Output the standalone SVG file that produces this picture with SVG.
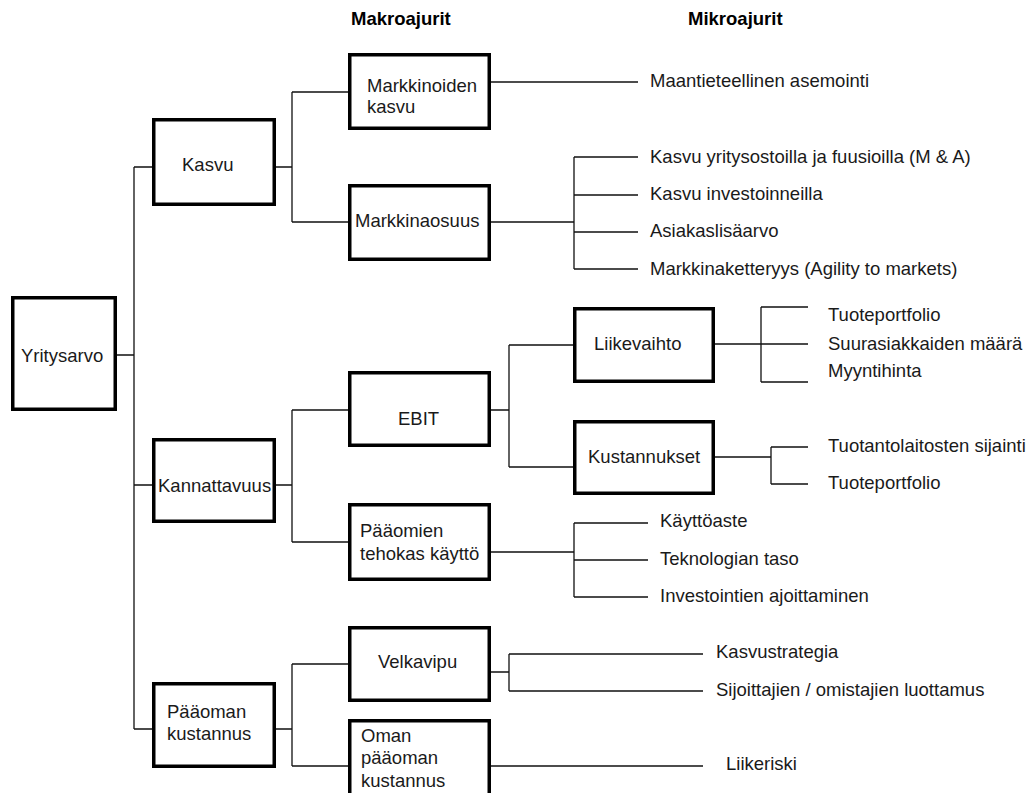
<svg xmlns="http://www.w3.org/2000/svg" width="1035" height="793" viewBox="0 0 1035 793">
<style>
.box{fill:#fff;stroke:#000;stroke-width:3.5}
.c{fill:none;stroke:#111;stroke-width:1.3}
text{font-family:"Liberation Sans",Arial,sans-serif;font-size:18.5px;fill:#1a1a1a}
.h{font-weight:bold;fill:#000}
</style>
<rect width="1035" height="793" fill="#fff"/>
<g id="connectors">
<path class="c" d="M117,355H134M134,167V729M134,167H152M134,485H152M134,729H152"/>
<path class="c" d="M276,167H292M292,92V222M292,92H348M292,222H348"/>
<path class="c" d="M491,82H638"/>
<path class="c" d="M491,222H574M574,157V269M574,157H638M574,195H638M574,232H638M574,269H638"/>
<path class="c" d="M276,485H292M292,410V542M292,410H348M292,542H348"/>
<path class="c" d="M491,410H509M509,345V467M509,345H573M509,467H573"/>
<path class="c" d="M715,344H808M761,307V382M761,307H808M761,382H808"/>
<path class="c" d="M715,457H771M771,447V484M771,447H808M771,484H808"/>
<path class="c" d="M491,552H574M574,523V597M574,523H648M574,560H648M574,597H648"/>
<path class="c" d="M276,729H292M292,664V766M292,664H348M292,766H348"/>
<path class="c" d="M491,672H509M509,654V691M509,654H703M509,691H703"/>
<path class="c" d="M491,766H703"/>
</g>
<g id="headers">
<text class="h" x="351" y="25">Makroajurit</text>
<text class="h" x="688" y="25">Mikroajurit</text>
</g>
<g id="yritysarvo"><rect class="box" x="12.75" y="297.75" width="102.5" height="111.5"/><text x="21" y="362">Yritysarvo</text></g>
<g id="kasvu"><rect class="box" x="153.75" y="119.75" width="120.5" height="84.5"/><text x="182" y="171">Kasvu</text></g>
<g id="kannattavuus"><rect class="box" x="153.75" y="439.75" width="120.5" height="81.5"/><text x="158" y="492">Kannattavuus</text></g>
<g id="paaoman-kustannus"><rect class="box" x="153.75" y="683.75" width="120.5" height="82.5"/><text x="167" y="718">Pääoman</text><text x="167" y="740">kustannus</text></g>
<g id="markkinoiden-kasvu"><rect class="box" x="349.75" y="54.75" width="139.5" height="73.5"/><text x="367" y="92">Markkinoiden</text><text x="367" y="113">kasvu</text></g>
<g id="markkinaosuus"><rect class="box" x="349.75" y="185.75" width="139.5" height="73.5"/><text x="355" y="227">Markkinaosuus</text></g>
<g id="ebit"><rect class="box" x="349.75" y="372.75" width="139.5" height="72.5"/><text x="398" y="425">EBIT</text></g>
<g id="paaomien-kaytto"><rect class="box" x="349.75" y="504.75" width="139.5" height="74.5"/><text x="360" y="537">Pääomien</text><text x="360" y="560">tehokas käyttö</text></g>
<g id="velkavipu"><rect class="box" x="349.75" y="627.75" width="139.5" height="72.5"/><text x="378" y="668">Velkavipu</text></g>
<g id="oman-paaoman-kustannus"><rect class="box" x="349.75" y="720.75" width="139.5" height="80"/><text x="361" y="742">Oman</text><text x="361" y="764">pääoman</text><text x="361" y="787">kustannus</text></g>
<g id="liikevaihto"><rect class="box" x="574.75" y="308.75" width="138.5" height="72.5"/><text x="594" y="350">Liikevaihto</text></g>
<g id="kustannukset"><rect class="box" x="574.75" y="421.75" width="138.5" height="71.5"/><text x="588" y="463">Kustannukset</text></g>
<g id="micro">
<text x="650" y="87">Maantieteellinen asemointi</text>
<text x="650" y="163">Kasvu yritysostoilla ja fuusioilla (M &amp; A)</text>
<text x="650" y="200">Kasvu investoinneilla</text>
<text x="650" y="237">Asiakaslisäarvo</text>
<text x="650" y="275">Markkinaketteryys (Agility to markets)</text>
<text x="828" y="321">Tuoteportfolio</text>
<text x="828" y="350">Suurasiakkaiden määrä</text>
<text x="828" y="377">Myyntihinta</text>
<text x="828" y="452">Tuotantolaitosten sijainti</text>
<text x="828" y="489">Tuoteportfolio</text>
<text x="660" y="527">Käyttöaste</text>
<text x="660" y="565">Teknologian taso</text>
<text x="660" y="602">Investointien ajoittaminen</text>
<text x="716" y="658">Kasvustrategia</text>
<text x="716" y="696">Sijoittajien / omistajien luottamus</text>
<text x="726" y="770">Liikeriski</text>
</g>
</svg>
